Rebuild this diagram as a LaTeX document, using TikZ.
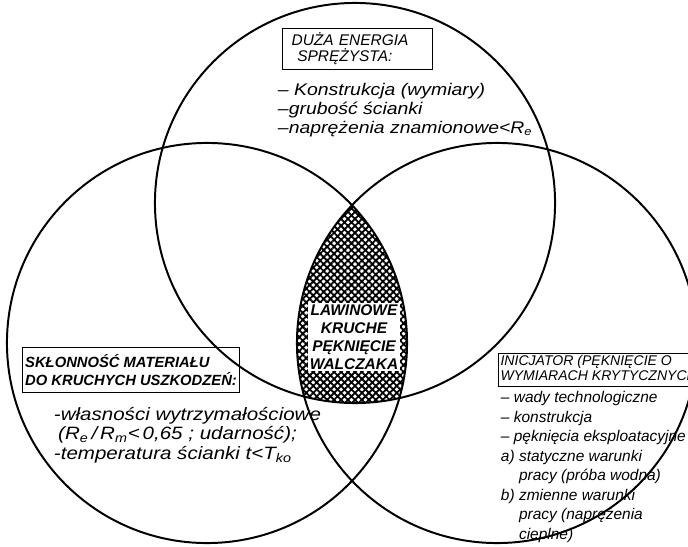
\documentclass[tikz,border=0pt]{standalone}
\usepackage{fontspec}
\setmainfont{Liberation Sans}
\newfontfamily\halfwidefont[FakeStretch=1.15]{Liberation Sans}
\usepackage[dvipsnames]{xcolor}
\usetikzlibrary{positioning,patterns.meta}

\begin{document}
\begin{tikzpicture}[x=0.025cm,y=-0.025cm,line width=1.4pt,node distance=0.2cm,box node/.style={draw,line width=0.6pt,inner xsep=5pt,inner ysep=3pt,align=left,font=\itshape\fontsize{11}{11.5}\selectfont},list node/.style={inner sep=0pt,align=left,font=\halfwidefont\itshape\fontsize{12}{13.2}\selectfont}]

            \useasboundingbox (0,0) rectangle (688,546);
            \clip (0,0) rectangle (688,546);

            % wspolna czesc
            \begin{scope}
                \clip (207,343) circle (5cm);
                \clip (497,343) circle (5cm);
                \fill[pattern={Hatch[angle=45,distance=3.5pt,line width=1.3pt]}] (355,203) circle (5cm);
            \end{scope}

            \draw (355,203) circle (5cm);
            \draw (207,343) circle (5cm);
            \draw (497,343) circle (5cm);

            \node[fill=white,inner sep=1.5pt,align=center,font=\bfseries\itshape\fontsize{11}{12.7}\selectfont] (0) at (354,337) {LAWINOWE\\KRUCHE\\PĘKNIĘCIE\\WALCZAKA};

            \node[box node,text width=3.3cm,inner xsep=0.23cm] (1) [anchor=north west] at (282,28) {DUŻA ENERGIA\\\hspace{4pt}SPRĘŻYSTA:};
            \node[list node] (2) [below=0.33cm of 1.south west,anchor=north west,xshift=-0.125cm] {– Konstrukcja (wymiary)\\–grubość ścianki\\–naprężenia znamionowe<R\textsubscript{e}};

            \node[box node,inner xsep=2pt,inner ysep=5pt,font=\bfseries\itshape\fontsize{10.5}{12.5}\selectfont] (3) [anchor=north west] at (22,347) {SKŁONNOŚĆ MATERIAŁU\\DO KRUCHYCH USZKODZEŃ:};
            \node[list node,font=\halfwidefont\itshape\fontsize{12.7}{13.6}\selectfont] (4) [below=0.35cm of 3.south west,anchor=north west,xshift=0.775cm] {-własności wytrzymałościowe\\\hspace{3pt}(R\textsubscript{e}\,/\,R\textsubscript{m}<\,0,65 ; udarność);\\-temperatura ścianki t<T\textsubscript{ko}};

            \node[box node,inner sep=1.5pt,font=\itshape\fontsize{10}{10.8}\selectfont] (5) [anchor=north west] at (498,353) {INICJATOR (PĘKNIĘCIE O\\WYMIARACH KRYTYCZNYCH)};
            \node[list node,font=\itshape\fontsize{11}{13.9}\selectfont] (6) [below=0.1cm of 5.south west,anchor=north west,xshift=0.05cm] {– wady technologiczne\\– konstrukcja\\– pęknięcia eksploatacyjne\\a) statyczne warunki\\\phantom{a) }pracy (próba wodna)\\b) zmienne warunki\\\phantom{b) }pracy (naprężenia\\\phantom{b) }cieplne)};

        \end{tikzpicture}
\end{document}
